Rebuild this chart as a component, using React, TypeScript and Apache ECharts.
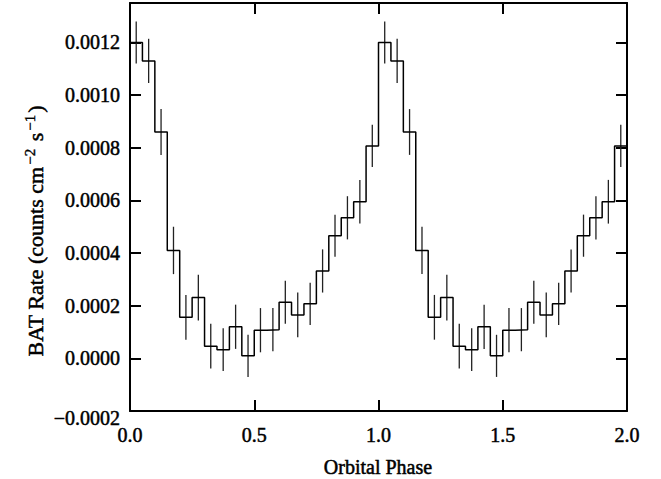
import React, { useEffect, useRef } from 'react';
import * as echarts from 'echarts';

// Left edges of the phase bins of one orbital cycle
const binStarts = [
  0.0, 0.05, 0.1, 0.15, 0.2, 0.25, 0.3, 0.35, 0.4, 0.45,
  0.5, 0.55, 0.6, 0.65, 0.7, 0.75, 0.8, 0.85, 0.9, 0.95,
];
const binWidth = 0.05;
// BAT rate per bin (counts cm^-2 s^-1)
const rates = [
  0.0012, 0.00113, 0.00086, 0.00041, 0.000156, 0.000231, 0.000046, 0.000033, 0.00012, 0.0000095,
  0.000107, 0.000109, 0.000213, 0.000165, 0.000207, 0.000332, 0.000466, 0.000534, 0.000595, 0.000807,
];
// 1-sigma errors per bin
const errors = [
  0.00008, 0.000084, 0.000087, 0.00009, 0.000085, 0.000087, 0.000085, 0.000081, 0.000084, 0.00008,
  0.000084, 0.000082, 0.000082, 0.000085, 0.00008, 0.000082, 0.00008, 0.000082, 0.000083, 0.00008,
];
// The folded light curve is shown for two cycles
const cycles = [0, 1];
const xTickLabels = ['0.0', '0.5', '1.0', '1.5', '2.0'];
const yTickLabels = ['\u22120.0002', '0.0000', '0.0002', '0.0004', '0.0006', '0.0008', '0.0010', '0.0012'];

const FONT = "'Liberation Serif', 'Times New Roman', serif";

export default function App() {
  const ref = useRef<HTMLDivElement>(null);
  useEffect(() => {
    document.body.style.margin = '0';
    const chart = echarts.init(ref.current!, null, { renderer: 'svg' });
    const stepData: number[][] = [];
    const errData: number[][] = [];
    cycles.forEach((c) => {
      binStarts.forEach((s, i) => {
        stepData.push([c + s, rates[i]]);
        errData.push([c + s + binWidth / 2, rates[i] - errors[i], rates[i] + errors[i]]);
      });
    });
    stepData.push([cycles.length, rates[rates.length - 1]]);

    const axisLine = { show: true, onZero: false, lineStyle: { color: '#000', width: 2 } };
    const axisTick = { show: true, inside: true, length: 11, lineStyle: { color: '#000', width: 2 } };
    const yMin = -0.0002;
    const yInt = 0.0002;
    const heavy = { textBorderColor: '#000', textBorderWidth: 0.5 };

    chart.setOption({
      animation: false,
      backgroundColor: '#fff',
      grid: { left: 130, right: 34, top: 3, bottom: 68, containLabel: false },
      xAxis: [
        {
          type: 'value', position: 'bottom', min: 0, max: 2, interval: 0.5,
          axisLine, axisTick, splitLine: { show: false },
          axisLabel: {
            color: '#000', fontSize: 20, fontFamily: FONT, margin: 14, ...heavy,
            formatter: (v: number) => xTickLabels[Math.round(v / 0.5)] ?? '',
          },
        },
        {
          type: 'value', position: 'top', min: 0, max: 2, interval: 0.5,
          axisLine, axisTick, splitLine: { show: false }, axisLabel: { show: false },
        },
      ],
      yAxis: [
        {
          type: 'value', position: 'left', min: yMin, max: 0.00135, interval: yInt,
          axisLine, axisTick, splitLine: { show: false },
          axisLabel: {
            color: '#000', fontSize: 20, fontFamily: FONT, margin: 10, showMaxLabel: false, ...heavy,
            formatter: (v: number) => {
              const idx = Math.round((v - yMin) / yInt);
              if (Math.abs(v - (yMin + idx * yInt)) > 1e-9) return '';
              const lab = yTickLabels[idx] ?? '';
              return idx === 0 ? '{lo|' + lab + '}' : lab;
            },
            rich: { lo: { fontSize: 20, fontFamily: FONT, color: '#000', padding: [14, 0, 0, 0], ...heavy } },
          },
        },
        {
          type: 'value', position: 'right', min: yMin, max: 0.00135, interval: yInt,
          axisLine, axisTick, splitLine: { show: false }, axisLabel: { show: false },
        },
      ],
      graphic: [
        {
          type: 'text', x: 378, y: 467,
          style: {
            text: 'Orbital Phase', font: `20px ${FONT}`, fill: '#000',
            stroke: '#000', lineWidth: 0.5,
            align: 'center', verticalAlign: 'middle',
          },
        },
        {
          type: 'text', x: 35, y: 231, rotation: Math.PI / 2,
          style: {
            text: 'BAT Rate (counts cm{sup|\u22122} s{sup|\u22121})',
            fontSize: 22, fontFamily: FONT, fill: '#000',
            stroke: '#000', lineWidth: 0.5,
            align: 'center', verticalAlign: 'middle',
            rich: {
              sup: {
                fontSize: 15, fontFamily: FONT, fill: '#000', stroke: '#000', lineWidth: 0.4,
                verticalAlign: 'bottom', padding: [0, 2, 11, 2],
              },
            },
          },
        },
      ],
      series: [
        {
          type: 'line', step: 'end', data: stepData, symbol: 'none',
          xAxisIndex: 0, yAxisIndex: 0,
          lineStyle: { color: '#000', width: 1.5 },
        },
        {
          type: 'custom', data: errData, xAxisIndex: 0, yAxisIndex: 0,
          encode: { x: 0, y: [1, 2] },
          renderItem: (params: any, api: any) => {
            const x = api.value(0);
            const lo = api.coord([x, api.value(1)]);
            const hi = api.coord([x, api.value(2)]);
            return {
              type: 'line',
              shape: { x1: lo[0], y1: lo[1], x2: hi[0], y2: hi[1] },
              style: { stroke: '#222', lineWidth: 1.3 },
            };
          },
        },
      ],
    });
    return () => chart.dispose();
  }, []);
  return <div ref={ref} style={{ position: 'absolute', left: 0, top: 0, width: 661, height: 479 }} />;
}
